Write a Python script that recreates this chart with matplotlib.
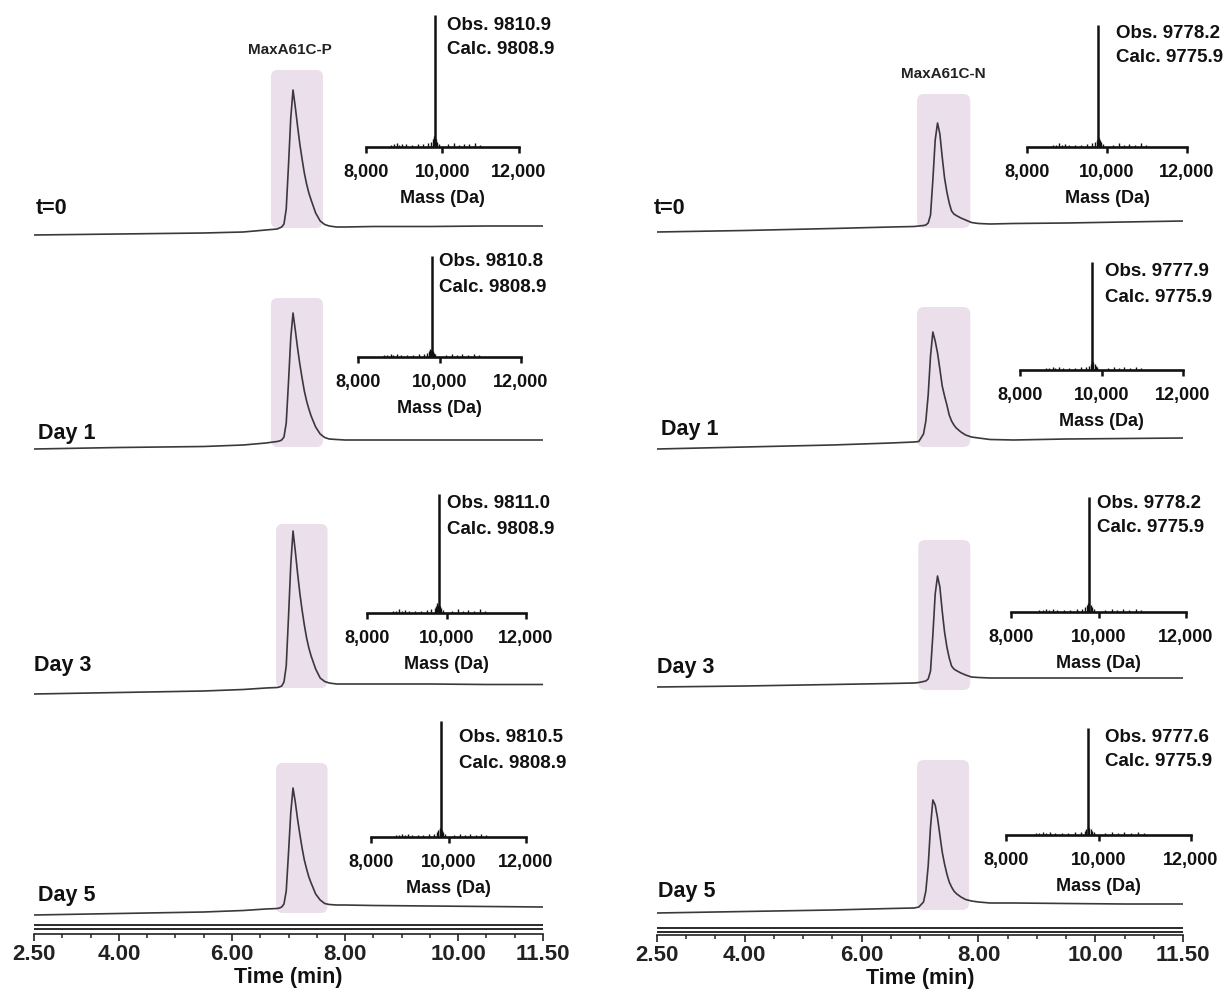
import matplotlib
matplotlib.use("Agg")
import matplotlib.pyplot as plt
from matplotlib import font_manager
from matplotlib.patches import FancyBboxPatch
from matplotlib.ticker import FixedLocator, MultipleLocator, FuncFormatter

W, H = 1225, 989

_names = {f.name for f in font_manager.fontManager.ttflist}
NARROW = "Liberation Sans Narrow" if "Liberation Sans Narrow" in _names else "Liberation Sans"
plt.rcParams["font.family"] = ["Liberation Sans", "DejaVu Sans"]

LINE = "#3b383c"
SHADE = "#eadfea"
INK = "#111111"

# ---------------- data ----------------
samples = ["t=0", "Day 1", "Day 3", "Day 5"]
time_ticks = [2.5, 4.0, 6.0, 8.0, 10.0, 11.5]
mass_ticks = [8000, 10000, 12000]

# MaxA61C-P chromatograms (retention time in min, signal in arbitrary units)
time_p = [2.5, 4.0, 5.5, 6.2, 6.6, 6.8, 6.84, 6.88, 6.92, 6.96, 7.00, 7.04, 7.08, 7.12, 7.16,
          7.20, 7.24, 7.28, 7.32, 7.36, 7.40, 7.48, 7.56, 7.64, 7.72, 7.85, 8.0, 8.5, 9.5, 10.5, 11.5]
p_t0 = [0, 1, 2, 3, 5, 6, 7, 8, 11, 26, 70, 117, 145, 128, 109,
        91, 76, 62, 51, 42, 35, 22, 14, 10.5, 9, 8, 8, 8.5, 8.5, 9, 9]
p_d1 = [0, 1.5, 2.5, 4, 6, 7.5, 8, 9, 12, 26, 67, 111, 136, 119, 101,
        85, 71, 58, 48, 40, 33, 22, 15, 11.5, 10, 9.5, 9, 9, 9, 9, 9]
p_d3 = [0, 1.5, 3, 4.5, 6, 6.5, 7, 8, 12, 28, 77, 129, 163, 143, 121,
        101, 84, 69, 56, 46, 38, 25, 16, 12.5, 11, 10, 10, 10, 10, 9.5, 9.5]
p_d5 = [0, 1.5, 3, 4.5, 6, 6.5, 7, 8, 11, 24, 62, 102, 127, 113, 96,
        81, 67, 55, 46, 38, 32, 21, 15, 11.5, 10.5, 10, 10, 9.5, 9, 8.5, 8]

# MaxA61C-N chromatograms
time_n = [2.5, 4.0, 5.5, 6.5, 6.9, 6.98, 7.06, 7.10, 7.14, 7.18, 7.22, 7.26, 7.30, 7.34, 7.38,
          7.42, 7.46, 7.50, 7.54, 7.58, 7.62, 7.70, 7.78, 7.88, 8.0, 8.2, 8.6, 9.5, 10.5, 11.5]
n_t0 = [0, 1.5, 3.5, 5, 5.5, 6, 6.5, 7, 9, 17, 52, 92, 109, 98, 75,
        54, 40, 29, 21, 18, 16.5, 14, 12, 9.5, 8.5, 8, 8.5, 9, 10, 11]
n_d1 = [0, 2, 4, 6, 7, 7.5, 15, 28, 54, 93, 117, 108, 96, 80, 63,
        53, 44, 34, 28, 24, 21, 17, 14, 12, 11, 9.5, 9, 10, 10.5, 11]
n_d3 = [0, 1, 2.5, 3.5, 4, 4.5, 5.5, 6, 8, 16, 52, 93, 111, 100, 76,
        55, 40, 29, 21, 18, 16.5, 14, 12, 10, 9.5, 9, 9, 9, 9, 9]
n_d5 = [0, 1.5, 3, 4.5, 5, 6, 11, 22, 47, 86, 113, 108, 95, 78, 61,
        49, 39, 31, 26, 22, 19.5, 16, 13.5, 12, 11, 10, 10, 9.5, 9, 9]

# deconvoluted masses (Da)
obs_p = [9810.9, 9810.8, 9811.0, 9810.5]
calc_p = 9808.9
obs_n = [9778.2, 9777.9, 9778.2, 9777.6]
calc_n = 9775.9

# small background peaks in the mass spectra (relative intensity)
noise_mass = [8650, 8720, 8800, 8870, 8950, 9050, 9200, 9350, 9500, 9620, 9700, 9740, 9770,
              9790, 9830, 9860, 9900, 10150, 10300, 10420, 10550, 10700, 10850, 10980]
noise_int = [0.015, 0.02, 0.03, 0.015, 0.025, 0.02, 0.015, 0.02, 0.025, 0.03, 0.04, 0.06, 0.08,
             0.07, 0.06, 0.04, 0.025, 0.02, 0.03, 0.015, 0.025, 0.02, 0.03, 0.015]

# ---------------- layout (pixels) ----------------
LEFT = dict(
    x0=34, x1=543, axis_y=934, dbl=(925, 928.5),
    base=[235, 449, 694, 915],
    boxes=[(6.69, 7.61, 70, 228), (6.69, 7.61, 298, 447), (6.78, 7.69, 524, 688), (6.78, 7.69, 763, 913)],
    day_pos=[(36, 208), (38, 433), (34, 666), (38, 896)],
    title="MaxA61C-P", title_pos=(290, 50),
    insets=[(366, 519, 147, 15), (358, 521, 357, 256), (367, 526, 613, 494), (371, 526, 837, 721)],
    text_pos=[(447, 25), (439, 262), (447, 504), (459, 738)],
)
RIGHT = dict(
    x0=657, x1=1183, axis_y=935, dbl=(928, 931.5),
    base=[232, 449, 687, 913],
    boxes=[(6.95, 7.86, 94, 228), (6.95, 7.86, 307, 447), (6.97, 7.86, 540, 690), (6.95, 7.84, 760, 910)],
    day_pos=[(654, 208), (661, 429), (657, 667), (658, 892)],
    title="MaxA61C-N", title_pos=(943, 74),
    insets=[(1027, 1187, 147, 25), (1020, 1183, 370, 262), (1011, 1186, 612, 497), (1006, 1191, 835, 728)],
    text_pos=[(1116, 33), (1105, 272), (1097, 503), (1105, 737)],
)


def fx(x):
    return x / W


def fy(y):
    return 1 - y / H


def draw_inset(fig, geom, obs, calc, tpos):
    x0, x1, ay, ty = geom
    ax = fig.add_axes([fx(x0), fy(ay), fx(x1) - fx(x0), fy(ty) - fy(ay)])
    ax.patch.set_alpha(0)
    ax.set_xlim(8000, 12000)
    ax.set_ylim(0, 1)
    for s in ("top", "right", "left"):
        ax.spines[s].set_visible(False)
    ax.spines["bottom"].set_linewidth(1.9)
    ax.spines["bottom"].set_color(INK)
    ax.set_yticks([])
    ax.vlines(noise_mass, 0, noise_int, color=INK, lw=1.0, clip_on=False)
    ax.vlines([obs], 0, 1, color=INK, lw=1.8, clip_on=False)
    ax.xaxis.set_major_locator(FixedLocator(mass_ticks))
    ax.xaxis.set_major_formatter(FuncFormatter(lambda v, p: f"{v:,.0f}"))
    ax.tick_params(axis="x", direction="out", length=4, width=1.8, pad=8, labelsize=13, colors=INK)
    for lab in ax.get_xticklabels():
        lab.set_fontweight("bold")
    ax.set_xlabel("Mass (Da)", fontsize=13, fontweight="bold", labelpad=6.5, color=INK)
    fig.text(fx(tpos[0]), fy(tpos[1]), f"Obs. {obs:.1f}", ha="left", va="center",
             fontsize=13.5, fontweight="bold", color=INK)
    fig.text(fx(tpos[0]), fy(tpos[1] + 25), f"Calc. {calc:.1f}", ha="left", va="center",
             fontsize=13.5, fontweight="bold", color=INK)


def draw_column(fig, lay, times, traces, obs, calc):
    x0, x1, ay = lay["x0"], lay["x1"], lay["axis_y"]
    ax = fig.add_axes([fx(x0), fy(ay), fx(x1) - fx(x0), 1 - fy(ay)])
    ax.patch.set_alpha(0)
    ax.set_xlim(2.5, 11.5)
    ax.set_ylim(0, ay)
    for s in ("top", "right", "left"):
        ax.spines[s].set_visible(False)
    ax.spines["bottom"].set_linewidth(1.2)
    ax.spines["bottom"].set_color("#222222")
    ax.set_yticks([])
    ax.xaxis.set_major_locator(FixedLocator(time_ticks))
    ax.xaxis.set_minor_locator(MultipleLocator(0.5))
    ax.xaxis.set_major_formatter(FuncFormatter(lambda v, p: f"{v:.2f}"))
    ax.tick_params(axis="x", which="major", direction="out", length=5, width=1.2, pad=2.5,
                   labelsize=16, colors="#222222")
    ax.tick_params(axis="x", which="minor", direction="out", length=3, width=1.1, colors="#222222")
    for lab in ax.get_xticklabels():
        lab.set_fontweight("bold")
        lab.set_family([NARROW, "DejaVu Sans"])
    ax.set_xlabel("Time (min)", fontsize=15.5, fontweight="bold", family=[NARROW, "DejaVu Sans"],
                  labelpad=1, color=INK)

    # double separator line above the time axis
    for yl in lay["dbl"]:
        ax.axhline(ay - yl, color="#2a2a2a", lw=1.4)

    px_per_min = (x1 - x0) / 9.0
    for tr, b, box in zip(traces, lay["base"], lay["boxes"]):
        t0, t1, ytop, ybot = box
        ax.add_patch(FancyBboxPatch((t0, ay - ybot), t1 - t0, ybot - ytop,
                                    boxstyle="round,pad=0,rounding_size=0.12",
                                    mutation_aspect=px_per_min, fc=SHADE, ec="none", zorder=1))
        ax.plot(times, [ay - b + v for v in tr], color=LINE, lw=1.2, zorder=3,
                solid_joinstyle="round")

    for name, (tx, tyy) in zip(samples, lay["day_pos"]):
        fig.text(fx(tx), fy(tyy), name, ha="left", va="center", fontsize=15.5,
                 fontweight="bold", color=INK)
    fig.text(fx(lay["title_pos"][0]), fy(lay["title_pos"][1]), lay["title"], ha="center",
             va="center", fontsize=11, fontweight="bold", color="#222222")

    for geom, o, tp in zip(lay["insets"], obs, lay["text_pos"]):
        draw_inset(fig, geom, o, calc, tp)


def main():
    fig = plt.figure(figsize=(W / 100, H / 100), dpi=100, facecolor="white")
    draw_column(fig, LEFT, time_p, [p_t0, p_d1, p_d3, p_d5], obs_p, calc_p)
    draw_column(fig, RIGHT, time_n, [n_t0, n_d1, n_d3, n_d5], obs_n, calc_n)
    fig.savefig("out.png", dpi=100, facecolor="white")
    plt.close(fig)


if __name__ == "__main__":
    main()
